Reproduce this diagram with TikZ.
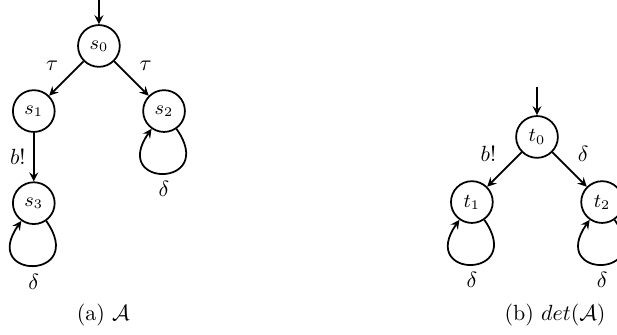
\documentclass[tikz,border=0pt]{standalone}
\usepackage{tikz}
\usetikzlibrary{automata, positioning, arrows}
\usepackage{amsmath}
\usepackage{amssymb}
\tikzset{%
  node distance=41.9pt, % diagonal spacing between the states
  every state/.style={thick, minimum size=19pt, inner sep=0pt, font=\small},
  initial text=$ $,
  every edge/.style={%
    draw,->, >=stealth, auto, thick
  }
}

\begin{document}
\begin{tikzpicture}[>=stealth, selfloop/.style={loop, out=-55, in=-125, distance=33pt}]
    \useasboundingbox (-45pt,20.9pt) rectangle (235.7pt,-131.5pt);
    % (a) A
    \node[state, initial above] (s0) {$s_0$};
    \node[state, below left of=s0] (s1) {$s_1$};
    \node[state, below right of=s0] (s2) {$s_2$};
    \node[state, below of=s1] (s3) {$s_3$};
    \draw (s0) edge[swap] node {$\tau$} (s1);
    \draw (s0) edge node {$\tau$} (s2);
    \draw (s1) edge[swap] node {$b!$} (s3);
    \draw (s2) edge[selfloop] node {$\delta$} (s2);
    \draw (s3) edge[selfloop] node {$\delta$} (s3);
    \node (capa) at (2pt,-122.4pt) {(a) $\mathcal{A}$};
    % (b) det(A)
    \node[state, initial above] (t0) at (199.3pt,-41.4pt) {$t_0$};
    \node[state, below left of=t0] (t1) {$t_1$};
    \node[state, below right of=t0] (t2) {$t_2$};
    \draw (t0) edge[swap] node {$b!$} (t1);
    \draw (t0) edge node {$\delta$} (t2);
    \draw (t1) edge[selfloop] node {$\delta$} (t1);
    \draw (t2) edge[selfloop] node {$\delta$} (t2);
    \node (capb) at (207.5pt,-122.4pt) {(b) $det(\mathcal{A})$};
\end{tikzpicture}
\end{document}
